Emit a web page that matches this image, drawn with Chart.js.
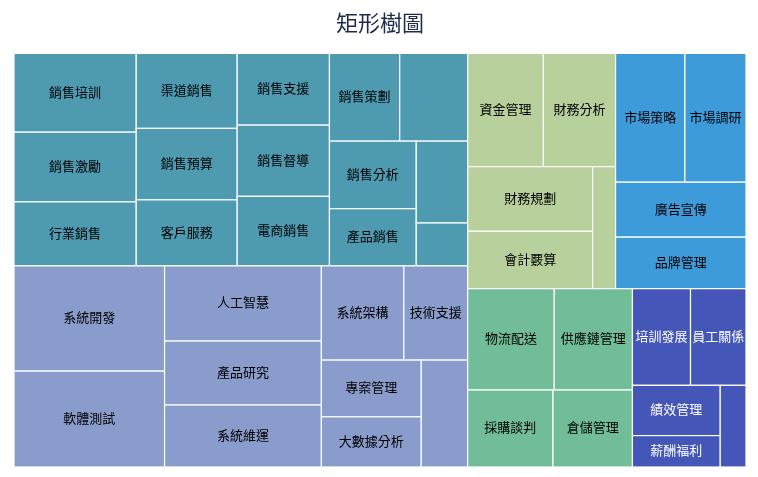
<!DOCTYPE html>
<html>
<head>
<meta charset="utf-8">
<title>矩形樹圖</title>
<script src="https://cdn.jsdelivr.net/npm/chart.js@4.4.0/dist/chart.umd.min.js"></script>
<style>
  html, body { margin: 0; padding: 0; background: #fff; }
  #wrap { width: 758px; height: 477px; }
</style>
</head>
<body>
<div id="wrap"><canvas id="chart"></canvas></div>
<script>
// groups of the treemap
const groupNames = ['銷售', '技術', '財務', '市場', '物流', '人力資源'];
const groupColors = ['#4e9ab1', '#899ccb', '#b7d09c', '#3e9bda', '#71bd97', '#4457b8'];
const labelColors = ['#000000', '#000000', '#000000', '#000000', '#000000', '#ffffff'];

// leaves per group (empty names = cells shown without a label)
const salesLabels = ['銷售培訓', '銷售激勵', '行業銷售', '渠道銷售', '銷售預算', '客戶服務', '銷售支援', '銷售督導', '電商銷售', '銷售策劃', '', '銷售分析', '產品銷售', '', ''];
const salesValues = [192, 170, 156, 151, 144, 133, 132, 131, 128, 123, 119, 117, 99, 84, 44];

const techLabels = ['系統開發', '軟體測試', '人工智慧', '產品研究', '系統維運', '系統架構', '技術支援', '專案管理', '大數據分析', ''];
const techValues = [316, 288, 235, 200, 194, 155, 120, 113, 100, 99];

const financeLabels = ['資金管理', '財務分析', '財務規劃', '會計覈算', ''];
const financeValues = [171, 163, 161, 143, 56];

const marketLabels = ['市場策略', '市場調研', '廣告宣傳', '品牌管理'];
const marketValues = [178, 157, 143, 134];

const logisticsLabels = ['物流配送', '供應鏈管理', '採購談判', '倉儲管理'];
const logisticsValues = [175, 158, 131, 122];

const hrLabels = ['培訓發展', '員工關係', '績效管理', '薪酬福利', ''];
const hrValues = [112, 107, 88, 55, 42];

const groupLabels = [salesLabels, techLabels, financeLabels, marketLabels, logisticsLabels, hrLabels];
const groupValues = [salesValues, techValues, financeValues, marketValues, logisticsValues, hrValues];

// squarified layout (golden ratio as target aspect)
const SQUARE_RATIO = 0.5 * (1 + Math.sqrt(5));

function worst(row, rowArea, fixed) {
  let max = 0, min = Infinity;
  row.forEach(n => {
    if (n.area) {
      if (n.area < min) min = n.area;
      if (n.area > max) max = n.area;
    }
  });
  const sq = rowArea * rowArea;
  const f = fixed * fixed * SQUARE_RATIO;
  return sq ? Math.max(f * max / sq, sq / (f * min)) : Infinity;
}

function position(row, rowArea, fixed, rect, flush) {
  const alongX = fixed === rect.w;
  let last = alongX ? rect.x : rect.y;
  let other = fixed ? rowArea / fixed : 0;
  const otherMax = alongX ? rect.h : rect.w;
  if (flush || other > otherMax) other = otherMax;
  const end = alongX ? rect.x + rect.w : rect.y + rect.h;
  row.forEach((n, i) => {
    const step = other ? n.area / other : 0;
    const remain = end - last;
    const len = (i === row.length - 1 || remain < step) ? remain : step;
    if (alongX) n.rect = { x: last, y: rect.y, w: len, h: other };
    else n.rect = { x: rect.x, y: last, w: other, h: len };
    last += len;
  });
  if (alongX) { rect.y += other; rect.h -= other; }
  else { rect.x += other; rect.w -= other; }
}

function squarify(nodes, rect) {
  const total = nodes.reduce((s, n) => s + n.value, 0);
  const items = nodes.slice().sort((a, b) => b.value - a.value);
  const area = rect.w * rect.h;
  items.forEach(n => { n.area = n.value / total * area; });
  const r = { x: rect.x, y: rect.y, w: rect.w, h: rect.h };
  let fixed = Math.min(r.w, r.h);
  let best = Infinity;
  let row = [], rowArea = 0;
  for (let i = 0; i < items.length;) {
    row.push(items[i]);
    rowArea += items[i].area;
    const score = worst(row, rowArea, fixed);
    if (score <= best) {
      i++;
      best = score;
    } else {
      rowArea -= row.pop().area;
      position(row, rowArea, fixed, r, false);
      fixed = Math.min(r.w, r.h);
      row = [];
      rowArea = 0;
      best = Infinity;
    }
  }
  if (row.length) position(row, rowArea, fixed, r, true);
  return items;
}

// draws the cells through the chart's x / y scales
const treemapPlugin = {
  id: 'treemap',
  afterDatasetsDraw(chart) {
    const { ctx, chartArea, scales } = chart;
    const W = chartArea.right - chartArea.left;
    const H = chartArea.bottom - chartArea.top;

    const groups = groupNames.map((name, g) => ({
      name,
      g,
      value: groupValues[g].reduce((a, b) => a + b, 0)
    }));
    squarify(groups, { x: 0, y: 0, w: W, h: H });

    const px = v => scales.x.getPixelForValue(v / W);
    const py = v => scales.y.getPixelForValue(v / H);

    ctx.save();
    groups.forEach(group => {
      const leaves = groupLabels[group.g].map((label, i) => ({ label, value: groupValues[group.g][i] }));
      squarify(leaves, group.rect);
      leaves.forEach(leaf => {
        const x0 = px(leaf.rect.x), x1 = px(leaf.rect.x + leaf.rect.w);
        const y0 = py(leaf.rect.y), y1 = py(leaf.rect.y + leaf.rect.h);
        ctx.fillStyle = groupColors[group.g];
        ctx.fillRect(x0, y0, x1 - x0, y1 - y0);
        ctx.strokeStyle = '#ffffff';
        ctx.lineWidth = 1.2;
        ctx.strokeRect(x0, y0, x1 - x0, y1 - y0);

        if (leaf.label) {
          ctx.font = '13px "Noto Sans CJK TC", sans-serif';
          const tw = ctx.measureText(leaf.label).width;
          if (tw <= (x1 - x0) - 1 && (y1 - y0) > 16) {
            ctx.fillStyle = labelColors[group.g];
            ctx.textAlign = 'center';
            ctx.textBaseline = 'middle';
            ctx.fillText(leaf.label, (x0 + x1) / 2, (y0 + y1) / 2 - 1);
          }
        }
      });
    });
    ctx.restore();
  }
};

new Chart(document.getElementById('chart'), {
  type: 'scatter',
  data: { datasets: [{ data: [] }] },
  options: {
    responsive: true,
    maintainAspectRatio: false,
    animation: false,
    layout: { padding: { left: 14, right: 12, top: 0, bottom: 10 } },
    scales: {
      x: { type: 'linear', min: 0, max: 1, display: false },
      y: { type: 'linear', min: 0, max: 1, reverse: true, display: false }
    },
    plugins: {
      legend: { display: false },
      tooltip: { enabled: false },
      title: {
        display: true,
        text: '矩形樹圖',
        color: '#1c2b4c',
        font: { size: 22, family: '"Noto Sans CJK TC", sans-serif', weight: 'normal' },
        padding: { top: 9, bottom: 18 }
      }
    }
  },
  plugins: [treemapPlugin]
});
</script>
</body>
</html>
